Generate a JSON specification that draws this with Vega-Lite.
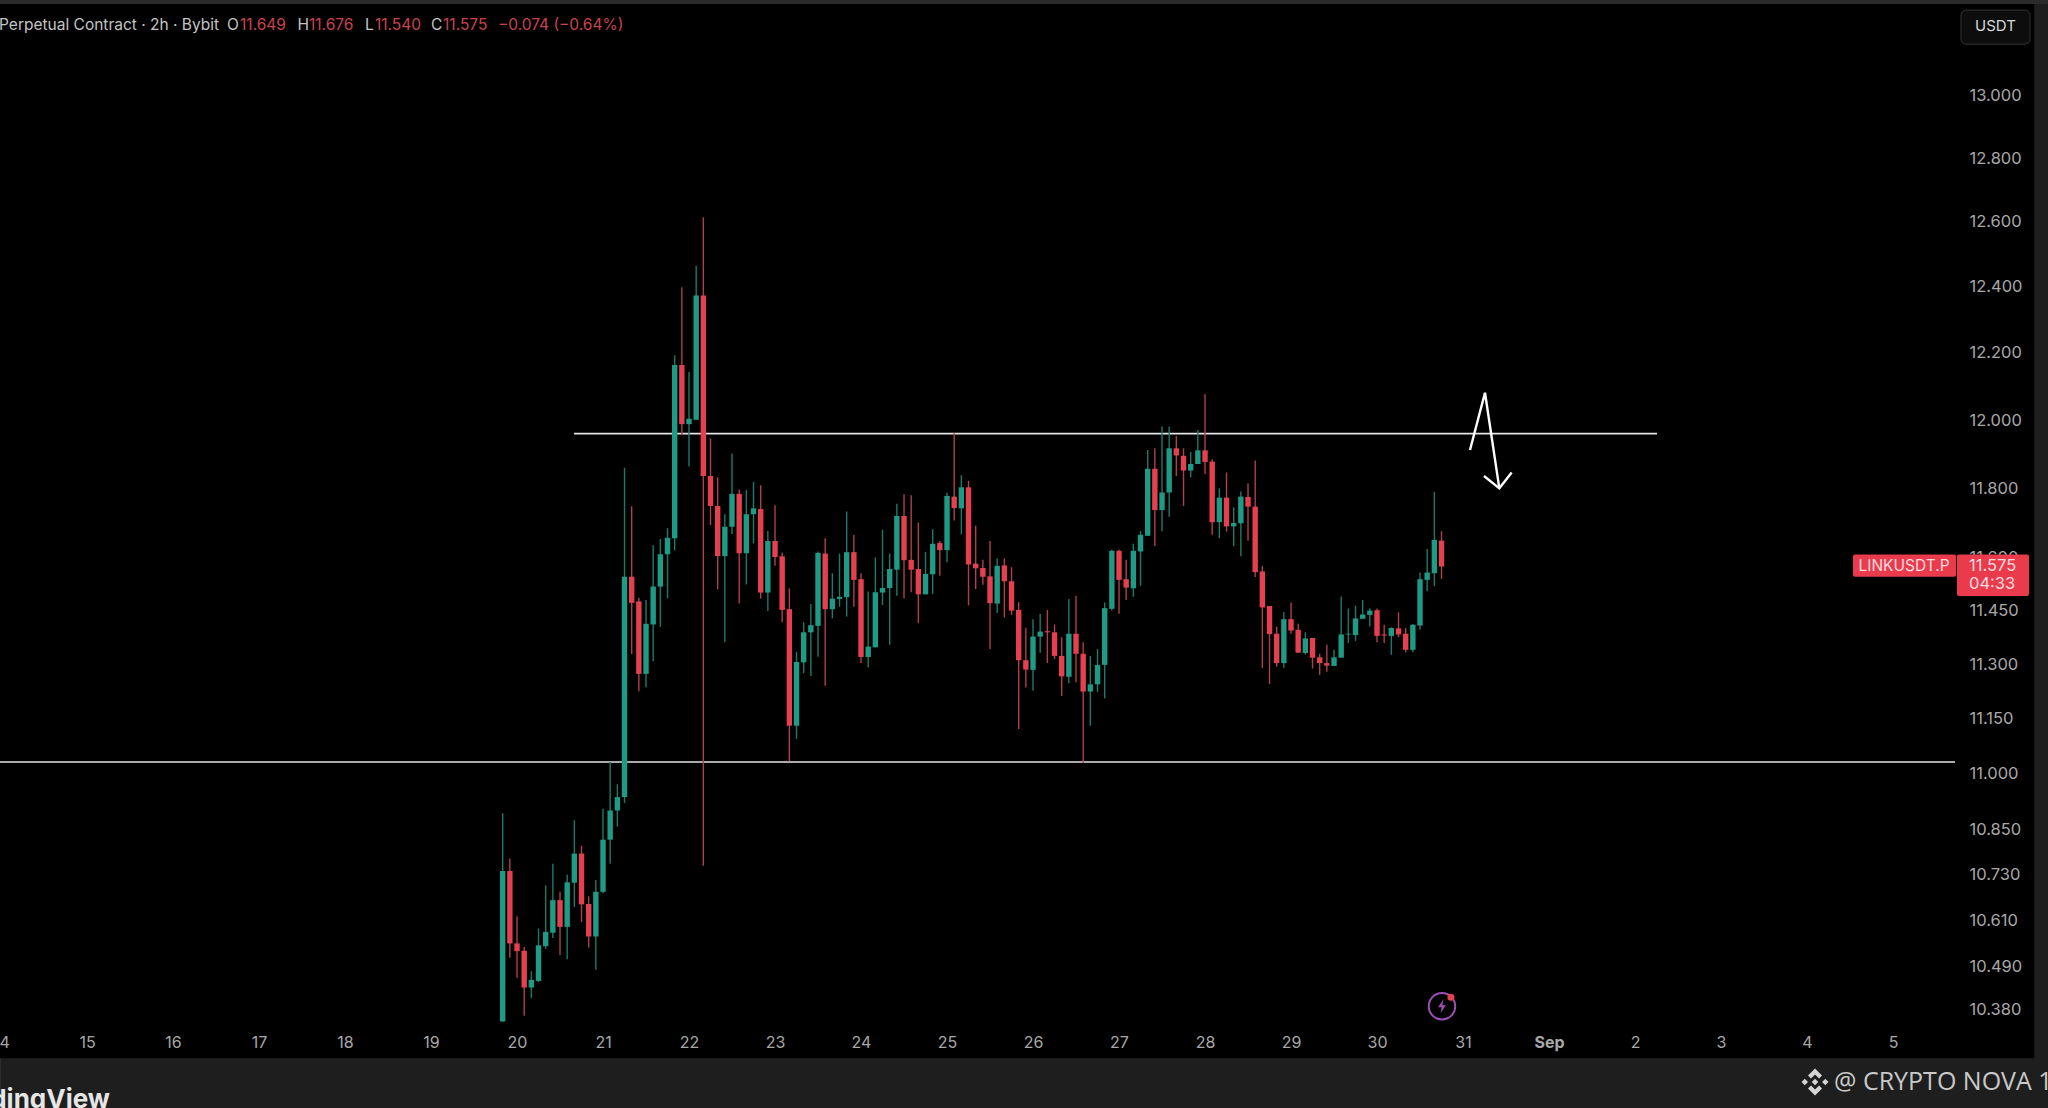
{
  "$schema": "https://vega.github.io/schema/vega-lite/v6.json",
  "width": 2048,
  "height": 1108,
  "padding": 0,
  "autosize": {"type": "none"},
  "background": "#000000",
  "view": {"stroke": null},
  "datasets": {
    "candles": [
      {"t":"2025-08-19T20:00Z","o":10.348,"h":10.893,"l":10.348,"c":10.739},
      {"t":"2025-08-19T22:00Z","o":10.739,"h":10.772,"l":10.512,"c":10.549},
      {"t":"2025-08-20T00:00Z","o":10.549,"h":10.620,"l":10.460,"c":10.529},
      {"t":"2025-08-20T02:00Z","o":10.530,"h":10.540,"l":10.363,"c":10.435},
      {"t":"2025-08-20T04:00Z","o":10.435,"h":10.477,"l":10.408,"c":10.455},
      {"t":"2025-08-20T06:00Z","o":10.452,"h":10.588,"l":10.449,"c":10.544},
      {"t":"2025-08-20T08:00Z","o":10.542,"h":10.701,"l":10.535,"c":10.579},
      {"t":"2025-08-20T10:00Z","o":10.577,"h":10.758,"l":10.563,"c":10.662},
      {"t":"2025-08-20T12:00Z","o":10.662,"h":10.684,"l":10.519,"c":10.592},
      {"t":"2025-08-20T14:00Z","o":10.592,"h":10.729,"l":10.508,"c":10.709},
      {"t":"2025-08-20T16:00Z","o":10.708,"h":10.874,"l":10.644,"c":10.785},
      {"t":"2025-08-20T18:00Z","o":10.785,"h":10.806,"l":10.605,"c":10.651},
      {"t":"2025-08-20T20:00Z","o":10.652,"h":10.672,"l":10.538,"c":10.567},
      {"t":"2025-08-20T22:00Z","o":10.567,"h":10.715,"l":10.481,"c":10.684},
      {"t":"2025-08-21T00:00Z","o":10.684,"h":10.905,"l":10.680,"c":10.822},
      {"t":"2025-08-21T02:00Z","o":10.822,"h":11.032,"l":10.758,"c":10.900},
      {"t":"2025-08-21T04:00Z","o":10.900,"h":10.971,"l":10.857,"c":10.936},
      {"t":"2025-08-21T06:00Z","o":10.936,"h":11.860,"l":10.920,"c":11.546},
      {"t":"2025-08-21T08:00Z","o":11.546,"h":11.748,"l":11.328,"c":11.472},
      {"t":"2025-08-21T10:00Z","o":11.476,"h":11.486,"l":11.225,"c":11.273},
      {"t":"2025-08-21T12:00Z","o":11.273,"h":11.480,"l":11.236,"c":11.413},
      {"t":"2025-08-21T14:00Z","o":11.411,"h":11.636,"l":11.308,"c":11.518},
      {"t":"2025-08-21T16:00Z","o":11.518,"h":11.654,"l":11.404,"c":11.610},
      {"t":"2025-08-21T18:00Z","o":11.610,"h":11.685,"l":11.485,"c":11.657},
      {"t":"2025-08-21T20:00Z","o":11.656,"h":12.193,"l":11.621,"c":12.164},
      {"t":"2025-08-21T22:00Z","o":12.164,"h":12.399,"l":11.957,"c":11.988},
      {"t":"2025-08-22T00:00Z","o":11.988,"h":12.143,"l":11.864,"c":12.004},
      {"t":"2025-08-22T02:00Z","o":12.001,"h":12.465,"l":12.001,"c":12.374},
      {"t":"2025-08-22T04:00Z","o":12.374,"h":12.615,"l":10.753,"c":11.836},
      {"t":"2025-08-22T06:00Z","o":11.836,"h":11.946,"l":11.694,"c":11.749},
      {"t":"2025-08-22T08:00Z","o":11.749,"h":11.832,"l":11.510,"c":11.605},
      {"t":"2025-08-22T10:00Z","o":11.605,"h":11.725,"l":11.361,"c":11.689},
      {"t":"2025-08-22T12:00Z","o":11.689,"h":11.902,"l":11.668,"c":11.784},
      {"t":"2025-08-22T14:00Z","o":11.784,"h":11.797,"l":11.470,"c":11.613},
      {"t":"2025-08-22T16:00Z","o":11.613,"h":11.795,"l":11.524,"c":11.725},
      {"t":"2025-08-22T18:00Z","o":11.725,"h":11.819,"l":11.641,"c":11.742},
      {"t":"2025-08-22T20:00Z","o":11.740,"h":11.809,"l":11.484,"c":11.501},
      {"t":"2025-08-22T22:00Z","o":11.501,"h":11.677,"l":11.449,"c":11.648},
      {"t":"2025-08-23T00:00Z","o":11.648,"h":11.751,"l":11.577,"c":11.602},
      {"t":"2025-08-23T02:00Z","o":11.604,"h":11.615,"l":11.417,"c":11.452},
      {"t":"2025-08-23T04:00Z","o":11.454,"h":11.513,"l":11.033,"c":11.130},
      {"t":"2025-08-23T06:00Z","o":11.130,"h":11.334,"l":11.094,"c":11.306},
      {"t":"2025-08-23T08:00Z","o":11.305,"h":11.417,"l":11.275,"c":11.389},
      {"t":"2025-08-23T10:00Z","o":11.389,"h":11.469,"l":11.267,"c":11.409},
      {"t":"2025-08-23T12:00Z","o":11.407,"h":11.618,"l":11.321,"c":11.614},
      {"t":"2025-08-23T14:00Z","o":11.612,"h":11.656,"l":11.240,"c":11.454},
      {"t":"2025-08-23T16:00Z","o":11.454,"h":11.556,"l":11.428,"c":11.484},
      {"t":"2025-08-23T18:00Z","o":11.483,"h":11.612,"l":11.461,"c":11.489},
      {"t":"2025-08-23T20:00Z","o":11.488,"h":11.733,"l":11.433,"c":11.616},
      {"t":"2025-08-23T22:00Z","o":11.616,"h":11.666,"l":11.461,"c":11.537},
      {"t":"2025-08-24T00:00Z","o":11.539,"h":11.556,"l":11.303,"c":11.320},
      {"t":"2025-08-24T02:00Z","o":11.320,"h":11.504,"l":11.291,"c":11.349},
      {"t":"2025-08-24T04:00Z","o":11.347,"h":11.601,"l":11.347,"c":11.502},
      {"t":"2025-08-24T06:00Z","o":11.501,"h":11.680,"l":11.466,"c":11.514},
      {"t":"2025-08-24T08:00Z","o":11.514,"h":11.612,"l":11.354,"c":11.568},
      {"t":"2025-08-24T10:00Z","o":11.566,"h":11.755,"l":11.492,"c":11.720},
      {"t":"2025-08-24T12:00Z","o":11.720,"h":11.783,"l":11.484,"c":11.593},
      {"t":"2025-08-24T14:00Z","o":11.594,"h":11.780,"l":11.502,"c":11.566},
      {"t":"2025-08-24T16:00Z","o":11.568,"h":11.701,"l":11.415,"c":11.496},
      {"t":"2025-08-24T18:00Z","o":11.496,"h":11.617,"l":11.496,"c":11.554},
      {"t":"2025-08-24T20:00Z","o":11.553,"h":11.682,"l":11.497,"c":11.640},
      {"t":"2025-08-24T22:00Z","o":11.642,"h":11.648,"l":11.549,"c":11.622},
      {"t":"2025-08-25T00:00Z","o":11.622,"h":11.787,"l":11.587,"c":11.778},
      {"t":"2025-08-25T02:00Z","o":11.776,"h":11.961,"l":11.707,"c":11.743},
      {"t":"2025-08-25T04:00Z","o":11.742,"h":11.838,"l":11.667,"c":11.803},
      {"t":"2025-08-25T06:00Z","o":11.803,"h":11.822,"l":11.465,"c":11.581},
      {"t":"2025-08-25T08:00Z","o":11.583,"h":11.692,"l":11.511,"c":11.570},
      {"t":"2025-08-25T10:00Z","o":11.571,"h":11.594,"l":11.523,"c":11.546},
      {"t":"2025-08-25T12:00Z","o":11.547,"h":11.648,"l":11.342,"c":11.471},
      {"t":"2025-08-25T14:00Z","o":11.470,"h":11.598,"l":11.443,"c":11.577},
      {"t":"2025-08-25T16:00Z","o":11.578,"h":11.598,"l":11.431,"c":11.533},
      {"t":"2025-08-25T18:00Z","o":11.533,"h":11.573,"l":11.438,"c":11.450},
      {"t":"2025-08-25T20:00Z","o":11.452,"h":11.474,"l":11.121,"c":11.311},
      {"t":"2025-08-25T22:00Z","o":11.311,"h":11.402,"l":11.235,"c":11.285},
      {"t":"2025-08-26T00:00Z","o":11.284,"h":11.426,"l":11.226,"c":11.377},
      {"t":"2025-08-26T02:00Z","o":11.377,"h":11.441,"l":11.332,"c":11.391},
      {"t":"2025-08-26T04:00Z","o":11.392,"h":11.452,"l":11.303,"c":11.389},
      {"t":"2025-08-26T06:00Z","o":11.389,"h":11.411,"l":11.314,"c":11.323},
      {"t":"2025-08-26T08:00Z","o":11.323,"h":11.375,"l":11.212,"c":11.266},
      {"t":"2025-08-26T10:00Z","o":11.265,"h":11.483,"l":11.247,"c":11.385},
      {"t":"2025-08-26T12:00Z","o":11.385,"h":11.492,"l":11.250,"c":11.329},
      {"t":"2025-08-26T14:00Z","o":11.329,"h":11.361,"l":11.028,"c":11.224},
      {"t":"2025-08-26T16:00Z","o":11.224,"h":11.323,"l":11.130,"c":11.244},
      {"t":"2025-08-26T18:00Z","o":11.244,"h":11.342,"l":11.223,"c":11.298},
      {"t":"2025-08-26T20:00Z","o":11.298,"h":11.473,"l":11.205,"c":11.457},
      {"t":"2025-08-26T22:00Z","o":11.455,"h":11.623,"l":11.450,"c":11.620},
      {"t":"2025-08-27T00:00Z","o":11.620,"h":11.623,"l":11.441,"c":11.537},
      {"t":"2025-08-27T02:00Z","o":11.539,"h":11.594,"l":11.480,"c":11.515},
      {"t":"2025-08-27T04:00Z","o":11.513,"h":11.640,"l":11.489,"c":11.620},
      {"t":"2025-08-27T06:00Z","o":11.618,"h":11.677,"l":11.520,"c":11.666},
      {"t":"2025-08-27T08:00Z","o":11.663,"h":11.912,"l":11.663,"c":11.857},
      {"t":"2025-08-27T10:00Z","o":11.857,"h":11.917,"l":11.633,"c":11.737},
      {"t":"2025-08-27T12:00Z","o":11.737,"h":11.981,"l":11.676,"c":11.788},
      {"t":"2025-08-27T14:00Z","o":11.788,"h":11.981,"l":11.718,"c":11.917},
      {"t":"2025-08-27T16:00Z","o":11.917,"h":11.953,"l":11.836,"c":11.896},
      {"t":"2025-08-27T18:00Z","o":11.895,"h":11.917,"l":11.749,"c":11.852},
      {"t":"2025-08-27T20:00Z","o":11.852,"h":11.906,"l":11.832,"c":11.871},
      {"t":"2025-08-27T22:00Z","o":11.871,"h":11.971,"l":11.871,"c":11.911},
      {"t":"2025-08-28T00:00Z","o":11.911,"h":12.077,"l":11.842,"c":11.877},
      {"t":"2025-08-28T02:00Z","o":11.878,"h":11.885,"l":11.666,"c":11.702},
      {"t":"2025-08-28T04:00Z","o":11.702,"h":11.800,"l":11.656,"c":11.773},
      {"t":"2025-08-28T06:00Z","o":11.773,"h":11.846,"l":11.675,"c":11.690},
      {"t":"2025-08-28T08:00Z","o":11.690,"h":11.745,"l":11.633,"c":11.700},
      {"t":"2025-08-28T10:00Z","o":11.699,"h":11.791,"l":11.604,"c":11.776},
      {"t":"2025-08-28T12:00Z","o":11.775,"h":11.815,"l":11.649,"c":11.747},
      {"t":"2025-08-28T14:00Z","o":11.747,"h":11.881,"l":11.545,"c":11.559},
      {"t":"2025-08-28T16:00Z","o":11.561,"h":11.577,"l":11.289,"c":11.459},
      {"t":"2025-08-28T18:00Z","o":11.463,"h":11.463,"l":11.245,"c":11.384},
      {"t":"2025-08-28T20:00Z","o":11.385,"h":11.405,"l":11.293,"c":11.303},
      {"t":"2025-08-28T22:00Z","o":11.303,"h":11.446,"l":11.290,"c":11.426},
      {"t":"2025-08-29T00:00Z","o":11.426,"h":11.473,"l":11.385,"c":11.394},
      {"t":"2025-08-29T02:00Z","o":11.396,"h":11.413,"l":11.331,"c":11.332},
      {"t":"2025-08-29T04:00Z","o":11.331,"h":11.389,"l":11.327,"c":11.372},
      {"t":"2025-08-29T06:00Z","o":11.373,"h":11.373,"l":11.288,"c":11.318},
      {"t":"2025-08-29T08:00Z","o":11.319,"h":11.329,"l":11.270,"c":11.303},
      {"t":"2025-08-29T10:00Z","o":11.303,"h":11.354,"l":11.279,"c":11.296},
      {"t":"2025-08-29T12:00Z","o":11.295,"h":11.340,"l":11.295,"c":11.319},
      {"t":"2025-08-29T14:00Z","o":11.318,"h":11.490,"l":11.318,"c":11.383},
      {"t":"2025-08-29T16:00Z","o":11.383,"h":11.456,"l":11.359,"c":11.385},
      {"t":"2025-08-29T18:00Z","o":11.381,"h":11.464,"l":11.365,"c":11.428},
      {"t":"2025-08-29T20:00Z","o":11.427,"h":11.480,"l":11.427,"c":11.439},
      {"t":"2025-08-29T22:00Z","o":11.438,"h":11.457,"l":11.405,"c":11.450},
      {"t":"2025-08-30T00:00Z","o":11.451,"h":11.456,"l":11.361,"c":11.379},
      {"t":"2025-08-30T02:00Z","o":11.383,"h":11.410,"l":11.359,"c":11.380},
      {"t":"2025-08-30T04:00Z","o":11.379,"h":11.403,"l":11.326,"c":11.401},
      {"t":"2025-08-30T06:00Z","o":11.400,"h":11.445,"l":11.375,"c":11.383},
      {"t":"2025-08-30T08:00Z","o":11.385,"h":11.401,"l":11.333,"c":11.340},
      {"t":"2025-08-30T10:00Z","o":11.340,"h":11.412,"l":11.333,"c":11.410},
      {"t":"2025-08-30T12:00Z","o":11.408,"h":11.558,"l":11.396,"c":11.539},
      {"t":"2025-08-30T14:00Z","o":11.537,"h":11.625,"l":11.505,"c":11.558},
      {"t":"2025-08-30T16:00Z","o":11.556,"h":11.790,"l":11.519,"c":11.651},
      {"t":"2025-08-30T18:00Z","o":11.649,"h":11.676,"l":11.540,"c":11.575}
    ],
    "lines": [
      {"t":"2025-08-20T15:54Z","t2":"2025-09-02T06:09Z","p":11.960},
      {"t":"2025-08-13T23:43Z","t2":"2025-09-05T17:18Z","p":11.031}
    ],
    "arrow": [
      {"stroke":"a","n":1,"t":"2025-08-31T01:57Z","p":11.912},
      {"stroke":"a","n":2,"t":"2025-08-31T06:08Z","p":12.081},
      {"stroke":"a","n":3,"t":"2025-08-31T10:08Z","p":11.800},
      {"stroke":"b","n":1,"t":"2025-08-31T05:51Z","p":11.836},
      {"stroke":"b","n":2,"t":"2025-08-31T10:08Z","p":11.800},
      {"stroke":"b","n":3,"t":"2025-08-31T13:35Z","p":11.846}
    ],
    "headerGrey": [
      {"t":"2025-08-13T23:27Z","p":13.226,"label":"Perpetual Contract · 2h · Bybit"},
      {"t":"2025-08-16T15:04Z","p":13.226,"label":"O"},
      {"t":"2025-08-17T10:44Z","p":13.226,"label":"H"},
      {"t":"2025-08-18T05:35Z","p":13.226,"label":"L"},
      {"t":"2025-08-19T00:00Z","p":13.226,"label":"C"}
    ],
    "headerRed": [
      {"t":"2025-08-16T18:42Z","p":13.226,"label":"11.649"},
      {"t":"2025-08-17T13:57Z","p":13.226,"label":"11.676"},
      {"t":"2025-08-18T08:22Z","p":13.226,"label":"11.540"},
      {"t":"2025-08-19T03:21Z","p":13.226,"label":"11.575"},
      {"t":"2025-08-19T18:42Z","p":13.226,"label":"−0.074 (−0.64%)"}
    ],
    "redBoxes": [
      {"t":"2025-09-04T12:50Z","t2":"2025-09-05T17:36Z","p":11.609,"p2":11.546},
      {"t":"2025-09-05T17:51Z","t2":"2025-09-06T13:57Z","p":11.609,"p2":11.491}
    ],
    "priceTexts": [
      {"t":"2025-09-05T21:13Z","p":11.577,"label":"11.575"},
      {"t":"2025-09-05T21:13Z","p":11.526,"label":"04:33"}
    ]
  },
  "encoding": {
    "x": {
      "field": "t",
      "type": "temporal",
      "title": null,
      "scale": {"type": "utc", "domain": ["2025-08-13T23:43:00Z", "2025-09-06T19:15:00Z"], "padding": 0},
      "axis": {
        "orient": "bottom",
        "offset": -74,
        "labelPadding": 0,
        "ticks": false,
        "domain": false,
        "grid": false,
        "tickCount": {"interval": "day", "step": 1},
        "labelOverlap": false,
        "labelFont": "Inter",
        "labelFontSize": 16,
        "labelColor": "#a8a8a8",
        "labelFontWeight": {"condition": {"test": "utcdate(datum.value) == 1", "value": "bold"}, "value": "normal"},
        "labelExpr": "utcmonth(datum.value) == 7 ? utcdate(datum.value) : utcdate(datum.value) == 1 ? 'Sep' : utcdate(datum.value) <= 5 ? utcdate(datum.value) : ''"
      }
    },
    "y": {
      "field": "p",
      "type": "quantitative",
      "title": null,
      "scale": {"type": "log", "domain": [10.13, 13.308], "nice": false, "zero": false, "padding": 0},
      "axis": {
        "orient": "right",
        "offset": -79,
        "labelPadding": 0,
        "ticks": false,
        "domain": false,
        "grid": false,
        "values": [13, 12.8, 12.6, 12.4, 12.2, 12, 11.8, 11.6, 11.45, 11.3, 11.15, 11, 10.85, 10.73, 10.61, 10.49, 10.38],
        "format": ".3f",
        "labelOverlap": false,
        "labelFont": "Inter",
        "labelFontSize": 16.5,
        "labelColor": "#a8a8a8"
      }
    }
  },
  "layer": [
    {
      "data": {"values": [
        {"t": "2025-08-13T23:43Z", "t2": "2025-09-06T19:15Z", "p": 10.255, "p2": 10.13},
        {"t": "2025-09-06T15:24Z", "t2": "2025-09-06T19:15Z", "p": 13.308, "p2": 10.13}
      ], "format": {"parse": {"t": "date", "t2": "date"}}},
      "mark": {"type": "rect", "fill": "#1e1e1e"},
      "encoding": {"x2": {"field": "t2"}, "y2": {"field": "p2"}}
    },
    {
      "data": {"values": [{"t": "2025-08-13T23:43Z", "t2": "2025-09-06T19:15Z", "p": 13.308, "p2": 13.295}], "format": {"parse": {"t": "date", "t2": "date"}}},
      "mark": {"type": "rect", "fill": "#2b2b2b"},
      "encoding": {"x2": {"field": "t2"}, "y2": {"field": "p2"}}
    },
    {
      "data": {"values": [{"p": 10.255}]},
      "mark": {"type": "rule", "color": "#3a3a3a", "strokeWidth": 1},
      "encoding": {"x": {"value": null}, "y": {"field": "p", "type": "quantitative"}}
    },
    {
      "data": {"name": "lines", "format": {"parse": {"t": "date", "t2": "date"}}},
      "mark": {"type": "rule", "color": "#e4e4e4", "strokeWidth": 1.6},
      "encoding": {"x2": {"field": "t2"}}
    },
    {
      "data": {"name": "candles"},
      "mark": {"type": "rule", "strokeWidth": 1.4},
      "encoding": {
        "y": {"field": "h", "type": "quantitative"},
        "y2": {"field": "l"},
        "color": {"condition": {"test": "datum.c >= datum.o", "value": "#1d7a6b"}, "value": "#b0404e"}
      }
    },
    {
      "data": {"name": "candles"},
      "mark": {"type": "bar", "size": 5.4},
      "encoding": {
        "y": {"field": "o", "type": "quantitative"},
        "y2": {"field": "c"},
        "color": {"condition": {"test": "datum.c >= datum.o", "value": "#1f9a84"}, "value": "#e5404f"}
      }
    },
    {
      "data": {"name": "arrow"},
      "mark": {"type": "line", "color": "#ffffff", "strokeWidth": 2.4},
      "encoding": {"detail": {"field": "stroke"}, "order": {"field": "n"}}
    },
    {
      "data": {"name": "headerGrey"},
      "mark": {"type": "text", "align": "left", "baseline": "middle", "font": "Inter", "fontSize": 15.5, "color": "#c4c4c4"},
      "encoding": {"text": {"field": "label"}}
    },
    {
      "data": {"name": "headerRed"},
      "mark": {"type": "text", "align": "left", "baseline": "middle", "font": "Inter", "fontSize": 15.5, "color": "#c9434f"},
      "encoding": {"text": {"field": "label"}}
    },
    {
      "data": {"values": [{"t": "2025-09-05T18:58Z", "t2": "2025-09-06T14:14Z", "p": 13.275, "p2": 13.164}], "format": {"parse": {"t": "date", "t2": "date"}}},
      "mark": {"type": "rect", "fill": "#0d0d0d", "stroke": "#333333", "strokeWidth": 1, "cornerRadius": 5},
      "encoding": {"x2": {"field": "t2"}, "y2": {"field": "p2"}}
    },
    {
      "data": {"values": [{"t": "2025-09-06T04:36Z", "p": 13.222, "label": "USDT"}]},
      "mark": {"type": "text", "align": "center", "baseline": "middle", "font": "Inter", "fontSize": 15, "color": "#d8d8d8"},
      "encoding": {"text": {"field": "label"}}
    },
    {
      "data": {"name": "redBoxes", "format": {"parse": {"t": "date", "t2": "date"}}},
      "mark": {"type": "rect", "fill": "#ea3b4d", "cornerRadius": 2},
      "encoding": {"x2": {"field": "t2"}, "y2": {"field": "p2"}}
    },
    {
      "data": {"values": [{"t": "2025-09-05T03:04Z", "p": 11.577, "label": "LINKUSDT.P"}]},
      "mark": {"type": "text", "align": "center", "baseline": "middle", "font": "Inter", "fontSize": 15.5, "color": "#f4dcdf"},
      "encoding": {"text": {"field": "label"}}
    },
    {
      "data": {"name": "priceTexts"},
      "mark": {"type": "text", "align": "left", "baseline": "middle", "font": "Inter", "fontSize": 16.5, "color": "#f4dcdf"},
      "encoding": {"text": {"field": "label"}}
    },
    {
      "data": {"values": [{"t": "2025-08-30T18:08Z", "p": 10.387}]},
      "mark": {"type": "point", "shape": "circle", "size": 700, "filled": false, "stroke": "#9c4fb4", "strokeWidth": 2, "opacity": 1}
    },
    {
      "data": {"values": [{"t": "2025-08-30T18:08Z", "p": 10.387}]},
      "mark": {"type": "point", "shape": "M0.2,-1L-0.55,0.15L-0.05,0.15L-0.2,1L0.55,-0.15L0.05,-0.15Z", "size": 200, "filled": true, "fill": "#9c4fb4", "opacity": 1}
    },
    {
      "data": {"values": [{"t": "2025-08-30T20:38Z", "p": 10.41}]},
      "mark": {"type": "point", "shape": "circle", "size": 49, "filled": true, "fill": "#e5404f", "opacity": 1}
    },
    {
      "data": {"values": [{"t": "2025-09-04T02:14Z", "p": 10.195}]},
      "mark": {"type": "point", "shape": "M0,-0.24L0.24,0L0,0.24L-0.24,0ZM-1,0L-0.76,-0.24L-0.52,0L-0.76,0.24ZM1,0L0.76,-0.24L0.52,0L0.76,0.24ZM0,-1L0.52,-0.48L0.3,-0.26L0,-0.56L-0.3,-0.26L-0.52,-0.48ZM0,1L0.52,0.48L0.3,0.26L0,0.56L-0.3,0.26L-0.52,0.48Z", "size": 729, "filled": true, "fill": "#d4d4d4", "opacity": 1}
    },
    {
      "data": {"values": [{"t": "2025-09-04T07:32Z", "p": 10.195, "label": "@ CRYPTO NOVA 1"}]},
      "mark": {"type": "text", "align": "left", "baseline": "middle", "font": "Open Sans", "fontSize": 25, "color": "#c8c8c8"},
      "encoding": {"text": {"field": "label"}}
    },
    {
      "data": {"values": [{"t": "2025-08-15T06:24Z", "p": 10.13, "label": "TradingView"}]},
      "mark": {"type": "text", "align": "right", "baseline": "alphabetic", "font": "Inter", "fontWeight": "bold", "fontSize": 26, "color": "#e6e6e6"},
      "encoding": {"text": {"field": "label"}}
    }
  ],
  "config": {"axis": {"labelBound": false, "labelFlush": false}}
}
